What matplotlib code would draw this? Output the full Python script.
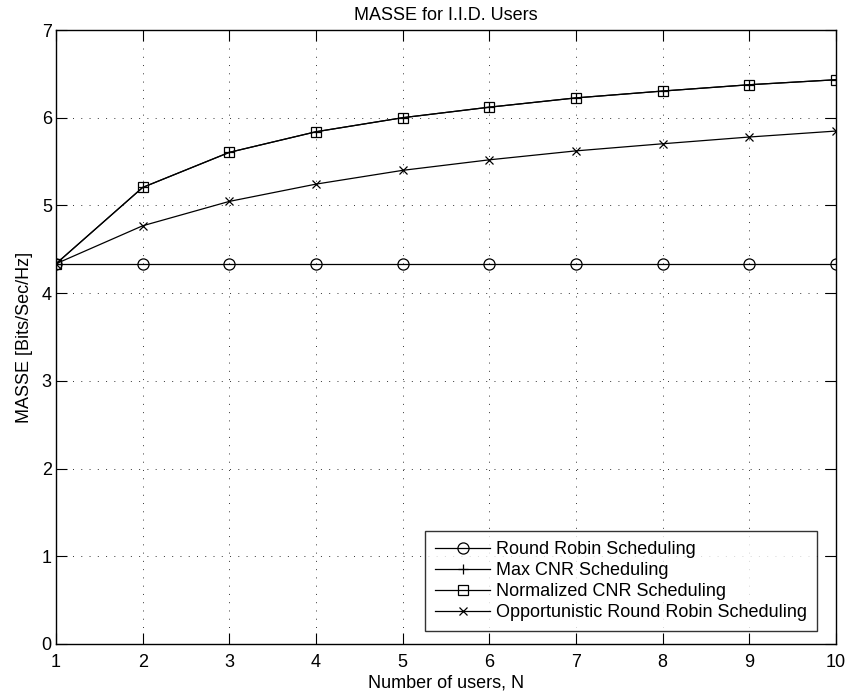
import matplotlib
matplotlib.use("Agg")
import matplotlib.pyplot as plt
import numpy as np

plt.rcParams['font.family'] = ['Liberation Sans', 'DejaVu Sans']

users = [1, 2, 3, 4, 5, 6, 7, 8, 9, 10]

roundRobin = [4.335, 4.335, 4.335, 4.335, 4.335, 4.335, 4.335, 4.335, 4.335, 4.335]
maxCNR = [4.335, 5.205, 5.605, 5.84, 6.0, 6.12, 6.226, 6.304, 6.376, 6.433]
normCNR = [4.335, 5.205, 5.605, 5.84, 6.0, 6.12, 6.226, 6.304, 6.376, 6.433]
oppRR = [4.335, 4.768, 5.046, 5.243, 5.40, 5.52, 5.622, 5.703, 5.78, 5.848]

labels = ["Round Robin Scheduling", "Max CNR Scheduling",
          "Normalized CNR Scheduling", "Opportunistic Round Robin Scheduling"]

fs = 13

fig = plt.figure(figsize=(8.48, 6.99), dpi=100)
ax = fig.add_axes([56 / 848, 55 / 699, 780 / 848, 614 / 699])

ax.plot(users, roundRobin, "k-o", lw=0.9, ms=8, mfc="none", mew=0.9, label=labels[0])
ax.plot(users, maxCNR, "k-+", lw=0.9, ms=7, mew=0.9, label=labels[1])
ax.plot(users, normCNR, "k-s", lw=0.9, ms=7, mfc="none", mew=0.9, label=labels[2])
ax.plot(users, oppRR, "k-x", lw=0.9, ms=6, mew=0.9, label=labels[3])

ax.set_xlim(1, 10)
ax.set_ylim(0, 7)
ax.set_xticks(np.arange(1, 11))
ax.set_yticks(np.arange(0, 8))

ax.grid(True, linestyle=(0, (1, 7.5)), color="#333333", lw=0.7)
ax.tick_params(direction="in", length=8, width=0.8, top=True, right=True,
               labelsize=fs, colors="k")
ax.tick_params(axis="x", pad=7)
ax.tick_params(axis="y", pad=3)
for s in ax.spines.values():
    s.set_linewidth(1.0)

ax.set_xlabel("Number of users, N", fontsize=fs, labelpad=3)
ax.set_ylabel("MASSE [Bits/Sec/Hz]", fontsize=fs, labelpad=6)
ax.set_title("MASSE for I.I.D. Users", fontsize=fs, pad=7)

leg = ax.legend(loc="lower right", bbox_to_anchor=(0.9756, 0.0212), fontsize=fs,
                frameon=True, fancybox=False, edgecolor="k", handlelength=3.05,
                handletextpad=0.33, borderpad=0.55, labelspacing=0.22,
                borderaxespad=0)
leg.get_frame().set_linewidth(1.0)

fig.savefig("out.png", dpi=100)
